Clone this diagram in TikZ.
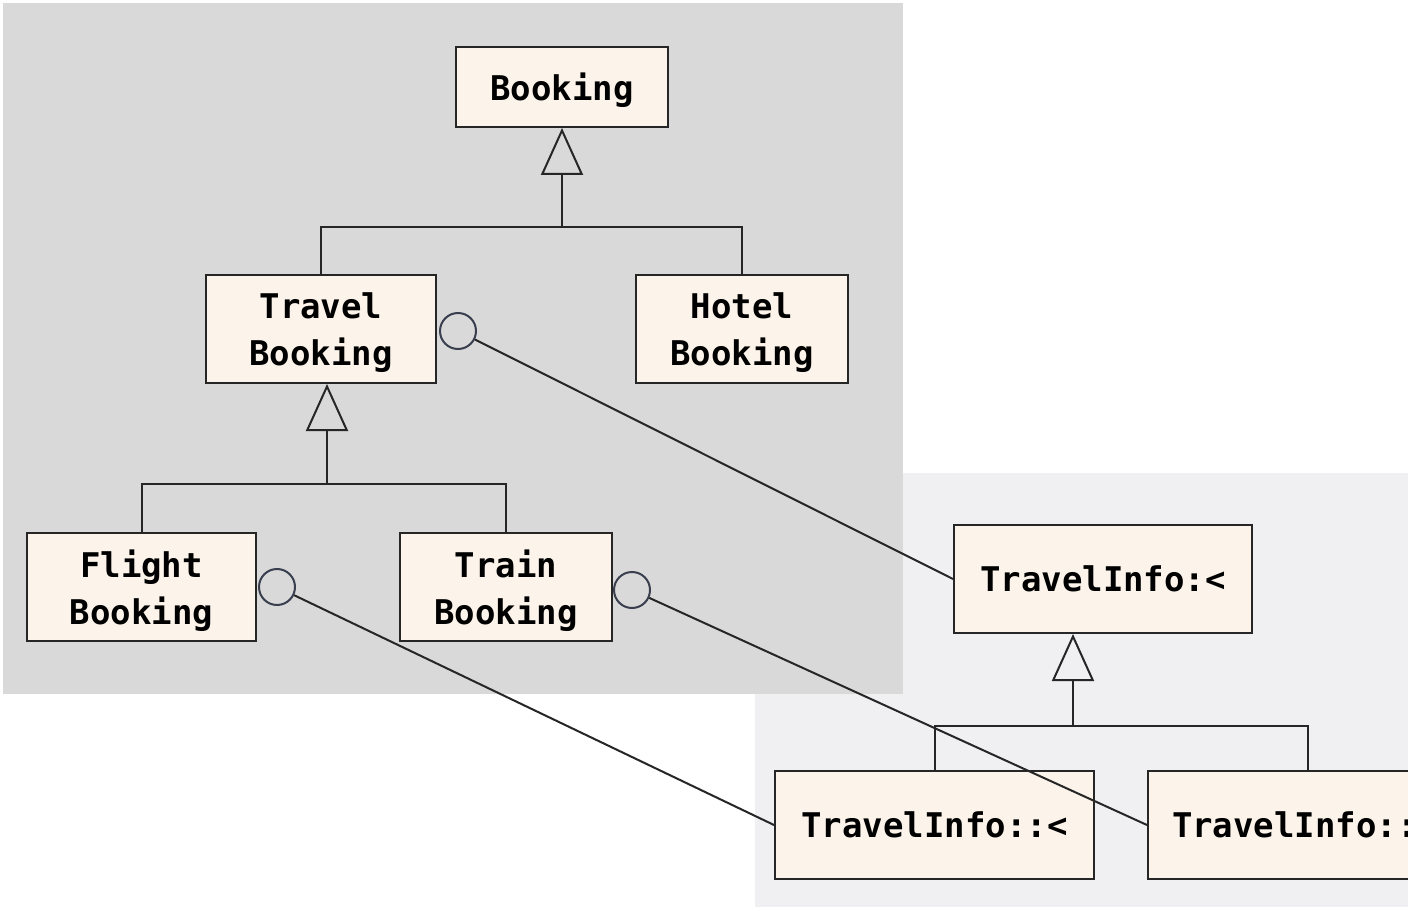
\documentclass[tikz,border=0pt]{standalone}
\usepackage{fontspec}
\setmonofont{DejaVu Sans Mono}
\usetikzlibrary{arrows.meta}
\definecolor{panelgray}{HTML}{D9D9D9}
\definecolor{panellight}{HTML}{F0F0F2}
\definecolor{boxfill}{HTML}{FCF4EA}
\definecolor{lollipop}{HTML}{3A3F4F}
\tikzset{
  cls/.style={draw=black!85, line width=1pt, fill=boxfill, align=center,
    font=\ttfamily\bfseries\fontsize{17pt}{23.5pt}\selectfont, inner sep=0pt,
    minimum height=54pt, text depth=0pt},
  conn/.style={draw=black!85, line width=1pt},
  gen/.style={conn, -{Triangle[open, length=23.5pt, width=21pt, line width=1pt]}},
  lolli/.style={circle, draw=lollipop, line width=1pt, minimum size=18pt, inner sep=0pt},
}
\begin{document}
\begin{tikzpicture}[x=0.5pt,y=-0.5pt]
\useasboundingbox (0,0) rectangle (1408,909);
\fill[white] (0,0) rectangle (1408,909);
\begin{scope}
\clip (0,0) rectangle (1408,909);
\fill[panellight] (755,473) rectangle (1408,907);
\fill[panelgray] (3,3) rectangle (903,694);

\node[cls, minimum width=106pt, minimum height=40pt] (booking) at (562,87) {Booking};
\node[cls, minimum width=115pt] (travel) at (321,329) {Travel\\Booking};
\node[cls, minimum width=106pt] (hotel) at (742,329) {Hotel\\Booking};
\node[cls, minimum width=114.5pt] (flight) at (141.5,587) {Flight\\Booking};
\node[cls, minimum width=106pt] (train) at (506,587) {Train\\Booking};
\node[cls, minimum width=149pt] (ti) at (1103,579) {TravelInfo:<};
\node[cls, minimum width=159.5pt] (ti2) at (934.5,825) {TravelInfo::<};
\node[cls, minimum width=160pt, text width=136pt, align=left] (ti3) at (1308,825) {TravelInfo::<};

\coordinate (j1) at (562,227);
\coordinate (j2) at (327,484);
\coordinate (j3) at (1073,726);

\draw[conn] (travel.north) |- (j1) -| (hotel.north);
\draw[gen] (j1) -- (booking.south);
\draw[conn] (flight.north -| 142,0) |- (j2) -| (train.north);
\draw[gen] (j2) -- (travel.south -| j2);
\draw[conn] (ti2.north) |- (j3) -| (ti3.north);
\draw[gen] (j3) -- (ti.south -| j3);

\node[lolli] (c1) at (458,331) {};
\node[lolli] (c2) at (277,587) {};
\node[lolli] (c3) at (632,590) {};
\draw[conn] (c1) -- (ti.west);
\draw[conn] (c2) -- (ti2.west);
\draw[conn] (c3) -- (ti3.west);
\end{scope}
\end{tikzpicture}
\end{document}
